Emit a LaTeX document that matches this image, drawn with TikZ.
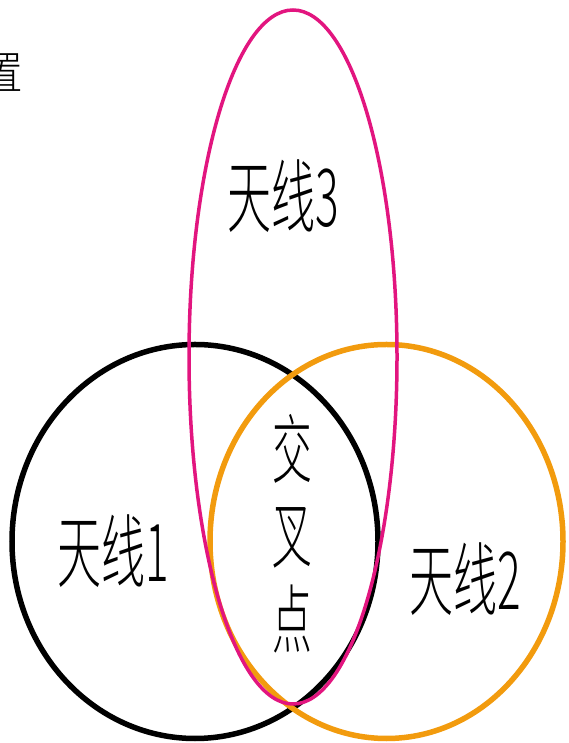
\documentclass[tikz,border=0pt]{standalone}
\usepackage{fontspec}
\newfontfamily\cjk{Noto Sans CJK SC}[UprightFont={* Light}]
\usepackage{tikz}
\usepackage{xcolor}
\definecolor{naranjaant}{HTML}{F29B0E}
\definecolor{magentaant}{HTML}{E2157F}

\begin{document}
\begin{tikzpicture}[x=1pt,y=1pt,
        etiqueta/.style={font=\cjk\fontsize{80}{80}\selectfont, xscale=0.55, inner sep=0pt},
        vertical/.style={font=\cjk\fontsize{75}{85}\selectfont, xscale=0.53, inner sep=0pt, align=center}]
        \useasboundingbox (0,0) rectangle (569,743);

        % Antena 1 y antena 2
        \draw[black, line width=5.5pt] (195,201.5) ellipse [x radius=183, y radius=197];
        \draw[naranjaant, line width=5.5pt] (386.5,201.5) ellipse [x radius=176.5, y radius=197];

        % Antena 3
        \draw[magentaant, line width=3.5pt] (293,386) ellipse [x radius=104, y radius=347];

        % Etiquetas
        \node[etiqueta] (ant1) at (113.5,191.5) {天线1};
        \node[etiqueta] (ant2) at (465,163.5) {天线2};
        \node[etiqueta] (ant3) at (283.5,547) {天线3};
        \node[vertical] (cruce) at (292.5,209) {交\\叉\\点};

        % Texto cortado arriba a la izquierda
        \node[font=\cjk\fontsize{45}{45}\selectfont, xscale=0.9, inner sep=0pt, anchor=east] (resto) at (23,670) {置};
    \end{tikzpicture}
\end{document}
